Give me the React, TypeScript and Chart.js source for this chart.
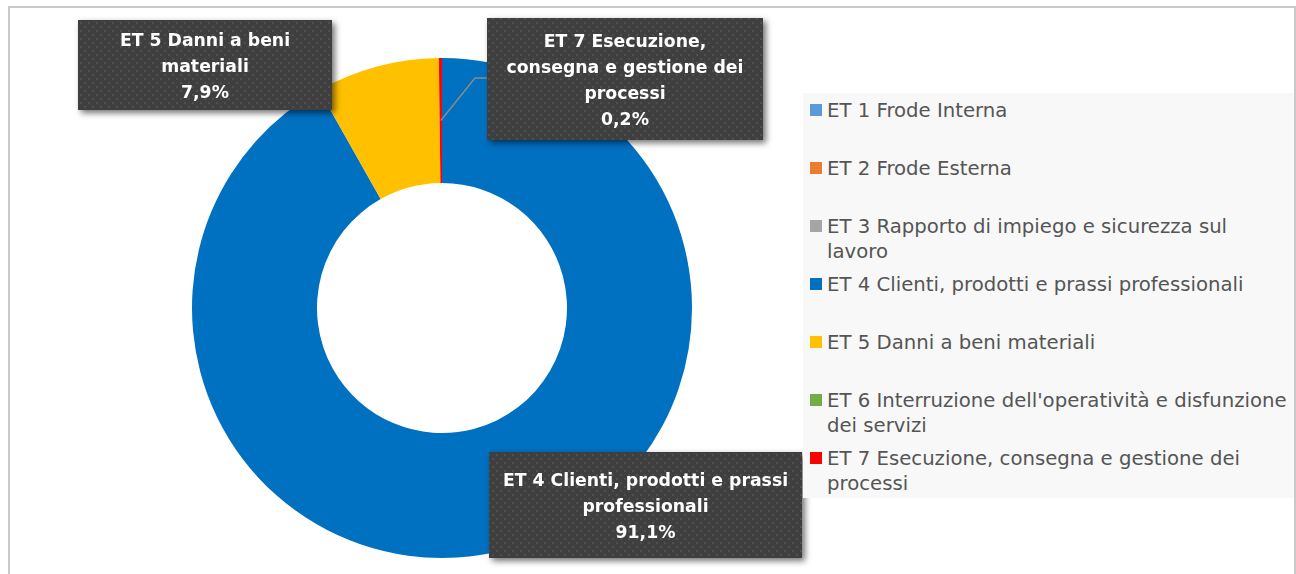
import React, { useEffect, useRef } from "react";
import { Chart, registerables } from "chart.js";

Chart.register(...registerables);

const categories = [
  "ET 1 Frode Interna",
  "ET 2 Frode Esterna",
  "ET 3 Rapporto di impiego e sicurezza sul lavoro",
  "ET 4 Clienti, prodotti e prassi professionali",
  "ET 5 Danni a beni materiali",
  "ET 6 Interruzione dell'operatività e disfunzione dei servizi",
  "ET 7 Esecuzione, consegna e gestione dei processi",
];
const values = [0, 0, 0, 91.1, 7.9, 0, 0.2];
const colors = ["#5B9BD5", "#ED7D31", "#A5A5A5", "#0070C0", "#FFC000", "#70AD47", "#FF0000"];
const calloutLines: string[][] = [
  [],
  [],
  [],
  ["ET 4 Clienti, prodotti e prassi", "professionali"],
  ["ET 5 Danni a beni", "materiali"],
  [],
  ["ET 7 Esecuzione,", "consegna e gestione dei", "processi"],
];

const fmtPct = (v: number) => v.toFixed(1).replace(".", ",") + "%";

// callout box placement relative to the doughnut centre
const calloutBoxes: Record<number, { dx: number; dy: number; w: number; h: number; leader?: boolean }> = {
  3: { dx: 47, dy: 144, w: 313, h: 106 },
  4: { dx: -364, dy: -288, w: 254, h: 90 },
  6: { dx: 45, dy: -290, w: 276, h: 122, leader: true },
};

function makePattern(ctx: CanvasRenderingContext2D) {
  const c = document.createElement("canvas");
  c.width = 8;
  c.height = 8;
  const p = c.getContext("2d")!;
  p.fillStyle = "#3f3f3f";
  p.fillRect(0, 0, 8, 8);
  p.fillStyle = "#4f4f4f";
  p.fillRect(2, 2, 2, 2);
  p.fillRect(6, 6, 2, 2);
  return ctx.createPattern(c, "repeat")!;
}

const calloutPlugin = {
  id: "callouts",
  afterDraw(chart: any) {
    const ctx: CanvasRenderingContext2D = chart.ctx;
    const meta = chart.getDatasetMeta(0);
    const pattern = makePattern(ctx);
    Object.keys(calloutBoxes).forEach((k) => {
      const i = Number(k);
      const b = calloutBoxes[i];
      const arc = meta.data[i];
      const left = arc.x + b.dx;
      const top = arc.y + b.dy;
      if (b.leader) {
        const pos = arc.tooltipPosition();
        ctx.save();
        ctx.strokeStyle = "#8a8a8a";
        ctx.lineWidth = 1.5;
        ctx.beginPath();
        ctx.moveTo(pos.x, pos.y);
        ctx.lineTo(left - 12, top + 60);
        ctx.lineTo(left, top + 60);
        ctx.stroke();
        ctx.restore();
      }
      ctx.save();
      ctx.shadowColor = "rgba(0,0,0,0.55)";
      ctx.shadowBlur = 6;
      ctx.shadowOffsetX = 3;
      ctx.shadowOffsetY = 3;
      ctx.fillStyle = pattern;
      ctx.fillRect(left, top, b.w, b.h);
      ctx.restore();
      const lines = [...calloutLines[i], fmtPct(values[i])];
      ctx.save();
      ctx.fillStyle = "#ffffff";
      ctx.font = "bold 17.3px 'DejaVu Sans'";
      ctx.textAlign = "center";
      ctx.textBaseline = "middle";
      const lh = 26;
      const cy = top + b.h / 2 + 3 - ((lines.length - 1) * lh) / 2;
      lines.forEach((l, j) => ctx.fillText(l, left + b.w / 2, cy + j * lh));
      ctx.restore();
    });
  },
};

export default function App() {
  const ref = useRef<HTMLCanvasElement>(null);
  useEffect(() => {
    document.body.style.margin = "0";
    document.body.style.overflow = "hidden";
    document.body.style.background = "#ffffff";
    const chart = new Chart(ref.current!, {
      type: "doughnut",
      data: {
        labels: categories,
        datasets: [
          {
            data: values,
            backgroundColor: colors,
            borderWidth: 0,
          },
        ],
      },
      options: {
        animation: false,
        responsive: false,
        devicePixelRatio: 1,
        cutout: "50%",
        layout: { padding: { left: 182, right: 602, top: 50, bottom: 16 } },
        plugins: { legend: { display: false }, tooltip: { enabled: false } },
      },
      plugins: [calloutPlugin],
    });
    return () => chart.destroy();
  }, []);

  return (
    <div
      style={{
        position: "absolute",
        left: 8,
        top: 6,
        width: 1288,
        height: 590,
        border: "2px solid #c9c9c9",
        boxSizing: "border-box",
        background: "#fff",
      }}
    >
      <canvas ref={ref} width={1284} height={566} style={{ position: "absolute", left: 0, top: 0 }} />
      <div
        style={{
          position: "absolute",
          left: 793,
          top: 85,
          width: 491,
          height: 405,
          background: "#f8f8f8",
          fontFamily: "'DejaVu Sans'",
          fontSize: 19.7,
          color: "#555555",
        }}
      >
        {categories.map((c, i) => (
          <div
            key={c}
            style={{
              position: "absolute",
              left: 0,
              top: 4.5 + i * 58,
              width: 491,
              display: "flex",
              lineHeight: "25px",
            }}
          >
            <div
              style={{
                width: 12,
                height: 12,
                background: colors[i],
                marginLeft: 7,
                marginTop: 6.5,
                flex: "none",
              }}
            />
            <div style={{ marginLeft: 5, width: 467 }}>{c}</div>
          </div>
        ))}
      </div>
    </div>
  );
}
